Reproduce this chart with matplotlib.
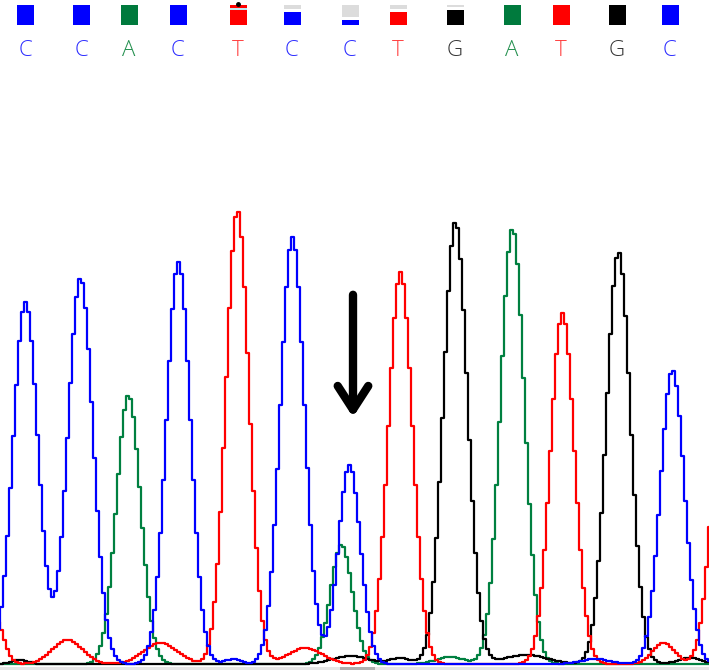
import matplotlib
matplotlib.use("Agg")
import matplotlib.pyplot as plt
import numpy as np
from matplotlib.patches import Rectangle

# base calls (header), x = call position in pixels
bases = ['C', 'C', 'A', 'C', 'T', 'C', 'C', 'T', 'G', 'A', 'T', 'G', 'C']
base_pos = [25, 81, 129, 178, 238, 292, 350, 398, 455, 512, 561, 617, 670]

# main peaks per channel: position, height, width (sigma)
blue_pos = [25, 80, 178, 292, 349, 672]
blue_h = [362, 386, 402, 427, 199, 294]
blue_w = [12.5, 12.5, 12, 12, 11, 12]

green_pos = [128, 341, 512]
green_h = [269, 119, 436]
green_w = [12, 11, 12]

red_pos = [-5, 237, 400, 562, 724]
red_h = [45, 454, 392, 351, 300]
red_w = [8, 11.5, 12, 12, 12]

black_pos = [455, 618]
black_h = [442, 412]
black_w = [12, 12]

# small baseline bumps
red_bump_pos = [67, 160, 305, 663]
red_bump_h = [24, 21, 16, 21]
red_bump_w = [15, 17, 17, 11]

black_bump_pos = [20, 350, 400, 525, 690]
black_bump_h = [4, 8, 6, 9, 6]
black_bump_w = [8, 18, 10, 22, 12]

green_bump_pos = [450]
green_bump_h = [7]
green_bump_w = [14]

blue_bump_pos = [233, 595]
blue_bump_h = [5, 5]
blue_bump_w = [8, 14]


def trace(x, pos, h, w):
    y = np.zeros_like(x)
    for p, a, s in zip(pos, h, w):
        y += a * np.exp(-(x - p) ** 2 / (2 * s ** 2))
    return y


x = np.arange(-2, 714, 3.0)
blue = trace(x, blue_pos + blue_bump_pos, blue_h + blue_bump_h, blue_w + blue_bump_w)
green = trace(x, green_pos + green_bump_pos, green_h + green_bump_h, green_w + green_bump_w)
red = trace(x, red_pos + red_bump_pos, red_h + red_bump_h, red_w + red_bump_w)
black = trace(x, black_pos + black_bump_pos, black_h + black_bump_h, black_w + black_bump_w)

fig = plt.figure(figsize=(7.09, 6.70), dpi=100)

# chromatogram
ax = fig.add_axes([0, 0, 1, 1])
ax.set_xlim(0, 709)
ax.set_ylim(-6, 664)
ax.axis('off')

ax.add_patch(Rectangle((0, -6), 709, 3, color='#e6e6e6', lw=0))
ax.add_patch(Rectangle((340, -6), 35, 3, color='#b0b0b0', lw=0))

ax.plot(x, green, color='#008040', lw=1.6, drawstyle='steps-mid')
ax.plot(x, black, color='black', lw=1.6, drawstyle='steps-mid')
ax.plot(x, red, color='#ff0000', lw=1.6, drawstyle='steps-mid')
ax.plot(x, blue, color='#0000ff', lw=1.6, drawstyle='steps-mid')

# arrow over the mixed peak
ax.annotate('', xy=(353, 244), xytext=(353, 372),
            arrowprops=dict(arrowstyle='->, head_length=0.85, head_width=0.55',
                            lw=6, color='black', capstyle='round',
                            joinstyle='round', mutation_scale=20))

# header with base squares and letters
hx = fig.add_axes([0, 1 - 70 / 670, 1, 70 / 670])
hx.set_xlim(0, 709)
hx.set_ylim(70, 0)
hx.axis('off')

sq_col = {'C': '#0000ff', 'A': '#007a3d', 'T': '#ff0000', 'G': '#000000'}
txt_col = {'C': '#2b2bff', 'A': '#24904f', 'T': '#ff4040', 'G': '#333333'}
# top fraction of each square shown grey (quality)
grey_top = [0, 0, 0, 0, 0, 6, 14, 6, 4, 0, 0, 0, 0]

for i, (b, p) in enumerate(zip(bases, base_pos)):
    g = grey_top[i]
    if g:
        hx.add_patch(Rectangle((p - 8.5, 5), 17, g - 2, color='#dcdcdc', lw=0))
        hx.add_patch(Rectangle((p - 8.5, 5 + g + 1), 17, 20 - g - 1, color=sq_col[b], lw=0))
    else:
        hx.add_patch(Rectangle((p - 8.5, 5), 17, 20, color=sq_col[b], lw=0))
    hx.text(p, 51, b, color=txt_col[b], ha='center', va='center',
            fontsize=16, fontfamily='Open Sans', fontweight='light')

# T square with a light line and a dot on top
hx.add_patch(Rectangle((238 - 8.5, 8), 17, 1.5, color='#bfe8f0', lw=0))
hx.plot([238], [3.5], 'o', color='black', ms=2.5)

fig.savefig('out.png', dpi=100)
